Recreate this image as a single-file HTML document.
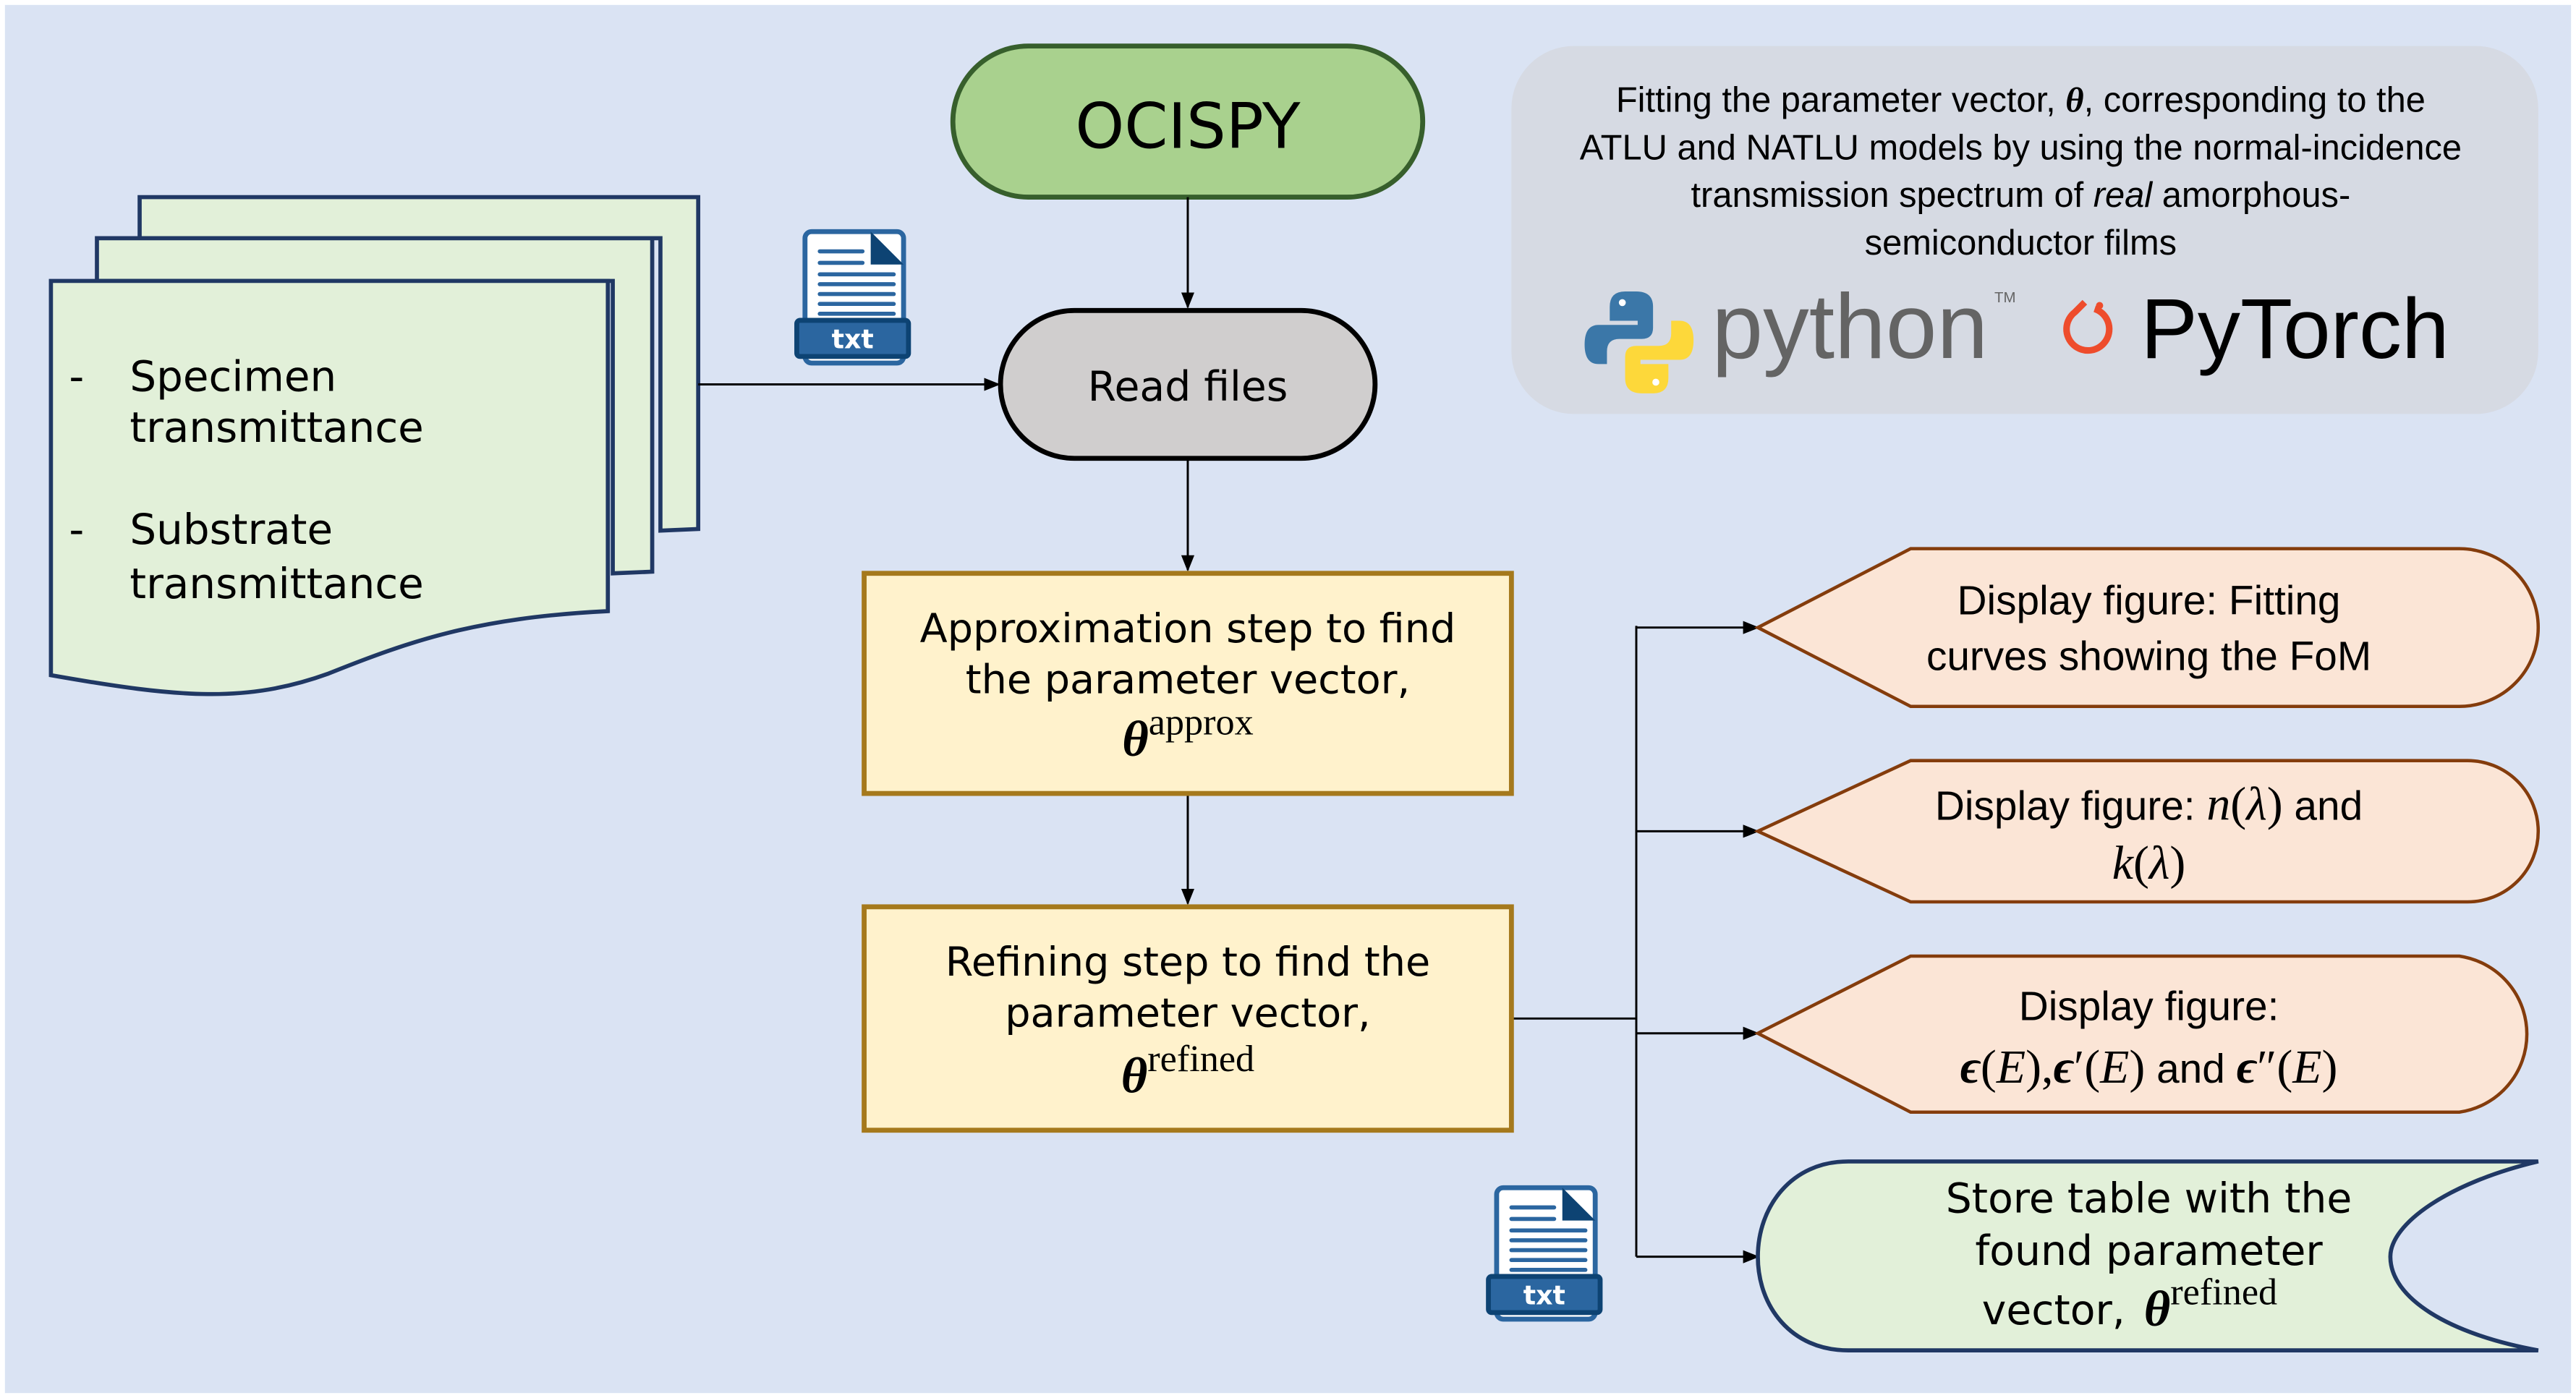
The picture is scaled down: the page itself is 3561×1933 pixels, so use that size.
<!DOCTYPE html>
<html><head><meta charset="utf-8"><style>
html,body{margin:0;padding:0;background:#fff;}
svg{display:block;}
.t{font-family:"DejaVu Sans",sans-serif;fill:#000;}
.c{font-family:"Liberation Sans",sans-serif;fill:#000;}
.m{font-family:"Liberation Serif","DejaVu Serif",serif;fill:#000;}
</style></head><body>
<svg width="3561" height="1933" viewBox="0 0 1568 851" preserveAspectRatio="none" xmlns="http://www.w3.org/2000/svg">
<defs>
<marker id="ar" markerWidth="10" markerHeight="10" refX="9" refY="5" orient="auto" markerUnits="userSpaceOnUse">
<path d="M0,1 L10,5 L0,9 z" fill="#000"/></marker>
<g id="txt">
<rect x="3" y="0" width="60" height="80" rx="4" fill="#fff" stroke="#2b66a0" stroke-width="3"/>
<path d="M43,0 L63,20 L43,20 z" fill="#0d4373"/>
<g stroke="#2b66a0" stroke-width="2.5" stroke-linecap="round">
<line x1="12" y1="12" x2="38" y2="12"/><line x1="12" y1="19" x2="38" y2="19"/>
<line x1="12" y1="26" x2="57" y2="26"/><line x1="12" y1="32" x2="57" y2="32"/>
<line x1="12" y1="38" x2="57" y2="38"/><line x1="12" y1="44" x2="57" y2="44"/>
<line x1="12" y1="50" x2="57" y2="50"/></g>
<rect x="-2" y="54" width="68" height="22" rx="2" fill="#2b66a0" stroke="#0d4373" stroke-width="3"/>
<text x="32" y="71" text-anchor="middle" font-family="DejaVu Sans" font-weight="bold" font-size="16" fill="#fff">txt</text>
</g>
</defs>
<rect x="0" y="0" width="1568" height="851" fill="#fff"/>
<rect x="3" y="3" width="1562" height="845" fill="#dae3f3"/>

<!-- gray info box -->
<rect x="920" y="28" width="625" height="224" rx="38" fill="#d6dae3"/>
<g class="c" font-size="21.5" text-anchor="middle">
<text x="1230" y="68">Fitting the parameter vector, <tspan font-family="Liberation Serif" font-weight="bold" font-style="italic">θ</tspan>, corresponding to the</text>
<text x="1230" y="97">ATLU and NATLU models by using the normal-incidence</text>
<text x="1230" y="126">transmission spectrum of <tspan font-style="italic">real</tspan> amorphous-</text>
<text x="1230" y="155">semiconductor films</text>
</g>
<!-- python logo -->
<g transform="translate(996,208) scale(0.85) translate(-996,-208)">
<path d="M996,172 h-8 q-11,0 -11,11 v10 h20 v3 h-28 q-10,0 -10,14 q0,14 10,14 h6 v-9 q0,-9 9,-9 h16 q8,0 8,-8 v-15 q0,-11 -12,-11 z" fill="#3b77a8"/>
<path d="M1000,245 h8 q11,0 11,-11 v-10 h-20 v-3 h28 q10,0 10,-14 q0,-14 -10,-14 h-6 v9 q0,9 -9,9 h-16 q-8,0 -8,8 v15 q0,11 12,11 z" fill="#fdd83a"/>
<circle cx="986" cy="180" r="2.5" fill="#fff"/><circle cx="1010" cy="237" r="2.5" fill="#fff"/>
</g>
<text x="1042" y="218" font-family="Liberation Sans" font-size="56" fill="#646464">python</text>
<text x="1214" y="184" font-family="Liberation Sans" font-size="9" fill="#646464">TM</text>
<!-- pytorch logo -->
<g>
<path d="M1269,184 l-6,6 a13,13 0 1 0 12,-2" fill="none" stroke="#ee4c2c" stroke-width="4"/>
<circle cx="1278" cy="186" r="2.2" fill="#ee4c2c"/>
<text x="1303" y="218" font-family="Liberation Sans" font-size="52" fill="#000">PyTorch</text>
</g>

<!-- documents -->
<g stroke="#203864" stroke-width="2.5" fill="#e2f0d9">
<path d="M85,120 H425 V322 L402,323 V145 H85 z"/>
<path d="M59,145 H397 V348 L373,349 V171 H59 z"/>
<path d="M31,171 H370 V372 C290,376 250,390 200,410 C150,428 110,425 31,411 z"/>
</g>
<g class="t" font-size="25.5">
<text x="42" y="238">-</text><text x="79" y="238">Specimen</text><text x="79" y="269">transmittance</text>
<text x="42" y="331">-</text><text x="79" y="331">Substrate</text><text x="79" y="364">transmittance</text>
</g>
<use href="#txt" x="487" y="141"/>

<!-- OCISPY -->
<rect x="580" y="28" width="286" height="92" rx="46" fill="#a9d18e" stroke="#375f2c" stroke-width="3"/>
<text x="723" y="90" text-anchor="middle" class="t" font-size="38">OCISPY</text>
<!-- Read files -->
<rect x="609" y="189" width="228" height="90" rx="45" fill="#d0cece" stroke="#000" stroke-width="3"/>
<text x="723" y="244" text-anchor="middle" class="t" font-size="25">Read files</text>

<!-- connectors -->
<g stroke="#000" stroke-width="1.3" fill="none">
<line x1="723" y1="120" x2="723" y2="187" marker-end="url(#ar)"/>
<line x1="723" y1="280" x2="723" y2="347" marker-end="url(#ar)"/>
<line x1="723" y1="484" x2="723" y2="550" marker-end="url(#ar)"/>
<line x1="425" y1="234" x2="608" y2="234" marker-end="url(#ar)"/>
<line x1="920" y1="620" x2="996" y2="620"/>
<line x1="996" y1="381" x2="996" y2="765"/>
<line x1="996" y1="382" x2="1070" y2="382" marker-end="url(#ar)"/>
<line x1="996" y1="506" x2="1070" y2="506" marker-end="url(#ar)"/>
<line x1="996" y1="629" x2="1070" y2="629" marker-end="url(#ar)"/>
<line x1="996" y1="765" x2="1070" y2="765" marker-end="url(#ar)"/>
</g>

<!-- approx box -->
<rect x="526" y="349" width="394" height="134" fill="#fff2cc" stroke="#a5791c" stroke-width="3"/>
<g class="t" font-size="24.5" text-anchor="middle">
<text x="723" y="391">Approximation step to find</text>
<text x="723" y="422">the parameter vector,</text>
</g>
<text x="723" y="460" text-anchor="middle" class="m" font-size="31"><tspan font-weight="bold" font-style="italic">θ</tspan><tspan font-size="23" dy="-13">approx</tspan></text>

<!-- refining box -->
<rect x="526" y="552" width="394" height="136" fill="#fff2cc" stroke="#a5791c" stroke-width="3"/>
<g class="t" font-size="24.5" text-anchor="middle">
<text x="723" y="594">Refining step to find the</text>
<text x="723" y="625">parameter vector,</text>
</g>
<text x="723" y="665" text-anchor="middle" class="m" font-size="31"><tspan font-weight="bold" font-style="italic">θ</tspan><tspan font-size="23" dy="-13">refined</tspan></text>

<!-- display shapes -->
<g fill="#fbe5d6" stroke="#843c0c" stroke-width="2">
<path d="M1070,382 L1163,334 H1497 A48,48 0 0 1 1497,430 H1163 z"/>
<path d="M1070,506 L1163,463 H1502 A43,43 0 0 1 1502,549 H1163 z"/>
<path d="M1070,629 L1163,582 H1497 A48,48 0 0 1 1497,677 H1163 z"/>
</g>
<g class="c" font-size="25" text-anchor="middle">
<text x="1308" y="374">Display figure: Fitting</text>
<text x="1308" y="408">curves showing the FoM</text>
<text x="1308" y="499">Display figure: <tspan class="m" font-size="29" font-style="italic">n</tspan><tspan class="m" font-size="29">(</tspan><tspan class="m" font-size="29" font-style="italic">λ</tspan><tspan class="m" font-size="29">)</tspan> and</text>
<text x="1308" y="535" class="m" font-size="29"><tspan font-style="italic">k</tspan>(<tspan font-style="italic">λ</tspan>)</text>
<text x="1308" y="621">Display figure:</text>
<text x="1308" y="659"><tspan class="m" font-size="29" font-weight="bold" font-style="italic">ϵ</tspan><tspan class="m" font-size="29">(</tspan><tspan class="m" font-size="29" font-style="italic">E</tspan><tspan class="m" font-size="29">),</tspan><tspan class="m" font-size="29" font-weight="bold" font-style="italic">ϵ</tspan><tspan class="m" font-size="29">′(</tspan><tspan class="m" font-size="29" font-style="italic">E</tspan><tspan class="m" font-size="29">)</tspan> and <tspan class="m" font-size="29" font-weight="bold" font-style="italic">ϵ</tspan><tspan class="m" font-size="29">″(</tspan><tspan class="m" font-size="29" font-style="italic">E</tspan><tspan class="m" font-size="29">)</tspan></text>
</g>

<!-- stored data -->
<path d="M1125,707 H1545 C1490,720 1455,745 1455,765 C1455,790 1490,812 1545,822 H1125 C1090,822 1070,795 1070,765 C1070,735 1090,707 1125,707 z" fill="#e2f0d9" stroke="#203864" stroke-width="2.5"/>
<g class="t" font-size="25" text-anchor="middle">
<text x="1308" y="738">Store table with the</text>
<text x="1308" y="770">found parameter</text>
<text x="1250" y="806">vector,</text>
</g>
<text x="1305" y="807" class="m" font-size="31"><tspan font-weight="bold" font-style="italic">θ</tspan><tspan font-size="23" dy="-13">refined</tspan></text>

<use href="#txt" x="908" y="723"/>
</svg>
</body></html>
